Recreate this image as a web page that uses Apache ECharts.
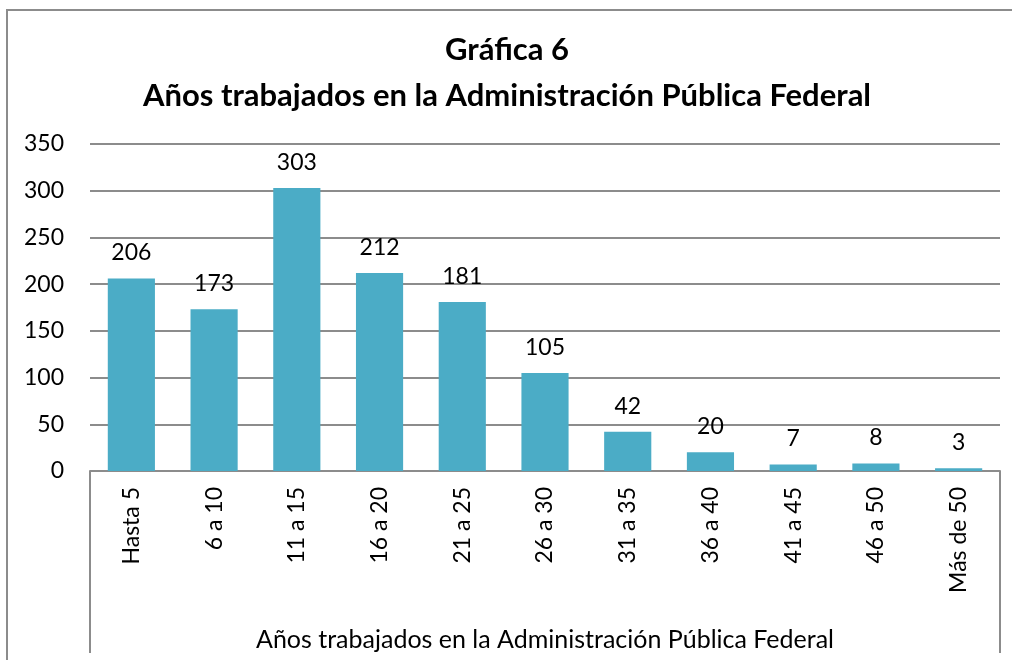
<!DOCTYPE html>
<html>
<head>
<meta charset="utf-8">
<script src="https://cdn.jsdelivr.net/npm/echarts@6/dist/echarts.min.js"></script>
<style>
  html, body { margin: 0; padding: 0; background: #fff; }
  #main { width: 1012px; height: 660px; }
</style>
</head>
<body>
<div id="main"></div>
<script>
// categorias y valores
const categories = ['Hasta 5', '6 a 10', '11 a 15', '16 a 20', '21 a 25', '26 a 30', '31 a 35', '36 a 40', '41 a 45', '46 a 50', 'Más de 50'];
const values = [206, 173, 303, 212, 181, 105, 42, 20, 7, 8, 3];
const yTicks = [0, 50, 100, 150, 200, 250, 300, 350];

const fontFam = 'Lato, "Open Sans", sans-serif';
const gridColor = '#8c8c8c';

let myChart = echarts.init(document.getElementById('main'));
let option = {
  backgroundColor: '#fff',
  title: {
    text: 'Gráfica 6\nAños trabajados en la Administración Pública Federal',
    left: 502,
    textAlign: 'center',
    top: 22,
    textStyle: {
      fontFamily: fontFam,
      fontSize: 31,
      fontWeight: 'bold',
      color: '#000',
      lineHeight: 46
    }
  },
  grid: {
    left: 90,
    right: 12,
    top: 144,
    bottom: 189
  },
  xAxis: {
    type: 'category',
    data: categories,
    axisTick: { show: false },
    axisLine: { lineStyle: { color: gridColor, width: 2 } },
    axisLabel: {
      rotate: 90,
      margin: 16,
      fontSize: 23,
      fontFamily: fontFam,
      color: '#000'
    },
    name: 'Años trabajados en la Administración Pública Federal',
    nameLocation: 'middle',
    nameGap: 156,
    nameTextStyle: { fontSize: 25, fontFamily: fontFam, color: '#000' }
  },
  yAxis: {
    type: 'value',
    min: yTicks[0],
    max: yTicks[yTicks.length - 1],
    interval: 50,
    axisLine: { show: false },
    axisTick: { show: false },
    axisLabel: { fontSize: 23, fontFamily: fontFam, color: '#000', margin: 26 },
    splitLine: { lineStyle: { color: gridColor, width: 2 } }
  },
  series: [{
    type: 'bar',
    data: values,
    barWidth: '57%',
    itemStyle: { color: '#4BACC6' },
    label: {
      show: true,
      position: 'top',
      distance: 14,
      fontSize: 23,
      fontFamily: fontFam,
      color: '#000'
    }
  }],
  graphic: [
    { type: 'rect', shape: { x: 7, y: 10, width: 1020, height: 670 }, style: { fill: 'none', stroke: gridColor, lineWidth: 2 }, silent: true },
    { type: 'line', shape: { x1: 90, y1: 471, x2: 90, y2: 653 }, style: { stroke: gridColor, lineWidth: 2 }, silent: true },
    { type: 'line', shape: { x1: 1000, y1: 471, x2: 1000, y2: 653 }, style: { stroke: gridColor, lineWidth: 2 }, silent: true }
  ]
};
myChart.setOption(option);
</script>
</body>
</html>
